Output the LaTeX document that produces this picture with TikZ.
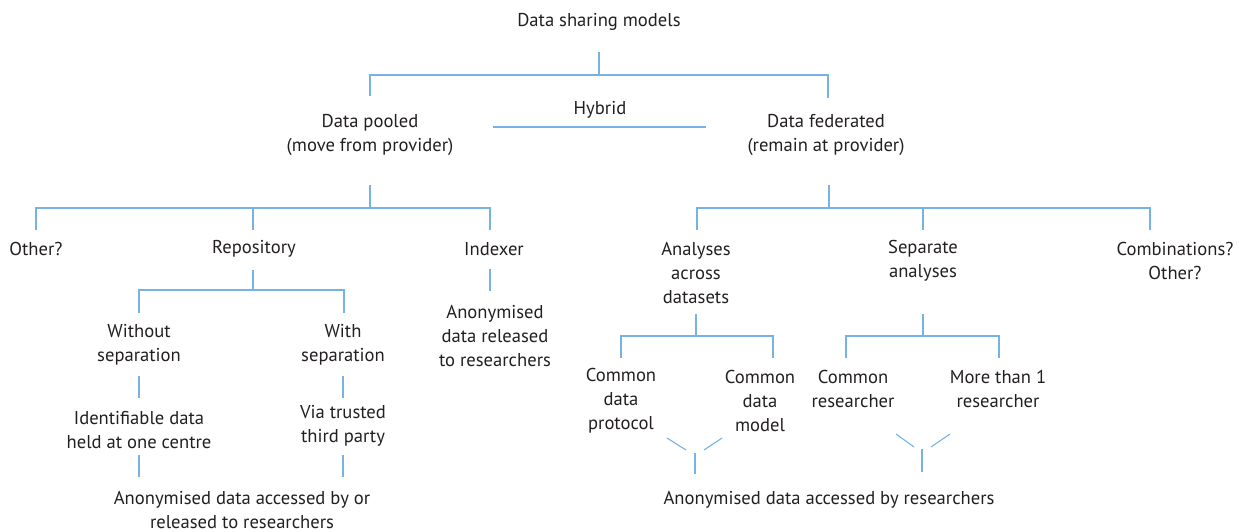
\documentclass[tikz,border=0pt]{standalone}
\usepackage{fontspec}
\setmainfont{PT Sans}
\definecolor{lineblue}{RGB}{118,178,228}
\definecolor{txt}{RGB}{35,31,32}
\begin{document}
\begin{tikzpicture}[x=1pt,y=-1pt,
  lbl/.style={align=center,text=txt,inner sep=0pt,font=\fontsize{18.6}{24}\selectfont},
  ln/.style={draw=lineblue,line width=1.1pt}]
\useasboundingbox (0,0) rectangle (1239,532);
% text nodes
\node[lbl] (title) at (599,22) {Data sharing models};
\node[lbl] (pooled) at (370,135) {Data pooled\\(move from provider)};
\node[lbl] (hybrid) at (600,110) {Hybrid};
\node[lbl] (fed) at (826,135) {Data federated\\(remain at provider)};
\node[lbl] (other) at (36,249) {Other?};
\node[lbl] (repo) at (254,249) {Repository};
\node[lbl] (idx) at (494,249) {Indexer};
\node[lbl] (anal) at (696,273) {Analyses\\across\\datasets};
\node[lbl] (sep) at (923,261) {Separate\\analyses};
\node[lbl] (comb) at (1175,261) {Combinations?\\Other?};
\node[lbl] (without) at (139,345) {Without\\separation};
\node[lbl] (with) at (343,345) {With\\separation};
\node[lbl] (anonidx) at (495,336) {Anonymised\\data released\\to researchers};
\node[lbl] (ident) at (139,430) {Identifiable data\\held at one centre};
\node[lbl] (via) at (343,426) {Via trusted\\third party};
\node[lbl] (anonL) at (242,510) {Anonymised data accessed by or\\released to researchers};
\node[lbl] (cdp) at (621,401) {Common\\data\\protocol};
\node[lbl] (cdm) at (760,401) {Common\\data\\model};
\node[lbl] (cres) at (853,389) {Common\\researcher};
\node[lbl] (more) at (998,389) {More than 1\\researcher};
\node[lbl] (anonR) at (829,500) {Anonymised data accessed by researchers};
% connectors
\draw[ln] (599,52) -- (599,75);
\draw[ln] (370,96) -- (370,75) -- (828,75) -- (828,98);
\draw[ln] (493,127) -- (706,127);
\draw[ln] (370,185) -- (370,208);
\draw[ln] (36,230) -- (36,208) -- (490,208) -- (490,230);
\draw[ln] (253,208) -- (253,230);
\draw[ln] (829,185) -- (829,208);
\draw[ln] (697,230) -- (697,208) -- (1150,208) -- (1150,230);
\draw[ln] (923,208) -- (923,230);
\draw[ln] (253,270) -- (253,290);
\draw[ln] (139,313) -- (139,290) -- (344,290) -- (344,313);
\draw[ln] (490,269) -- (490,291);
\draw[ln] (139,376) -- (139,398);
\draw[ln] (343,376) -- (343,398);
\draw[ln] (139,455) -- (139,477);
\draw[ln] (343,455) -- (343,477);
\draw[ln] (696,314) -- (696,336);
\draw[ln] (621,358) -- (621,336) -- (773,336) -- (773,358);
\draw[ln] (923,314) -- (923,336);
\draw[ln] (846,358) -- (846,336) -- (999,336) -- (999,358);
\draw[ln] (667,438) -- (686,450);
\draw[ln] (722,438) -- (704,450);
\draw[ln] (695,453) -- (695,474);
\draw[ln] (896,434) -- (914,447);
\draw[ln] (950,434) -- (931,447);
\draw[ln] (922,449) -- (922,472);
\end{tikzpicture}
\end{document}
